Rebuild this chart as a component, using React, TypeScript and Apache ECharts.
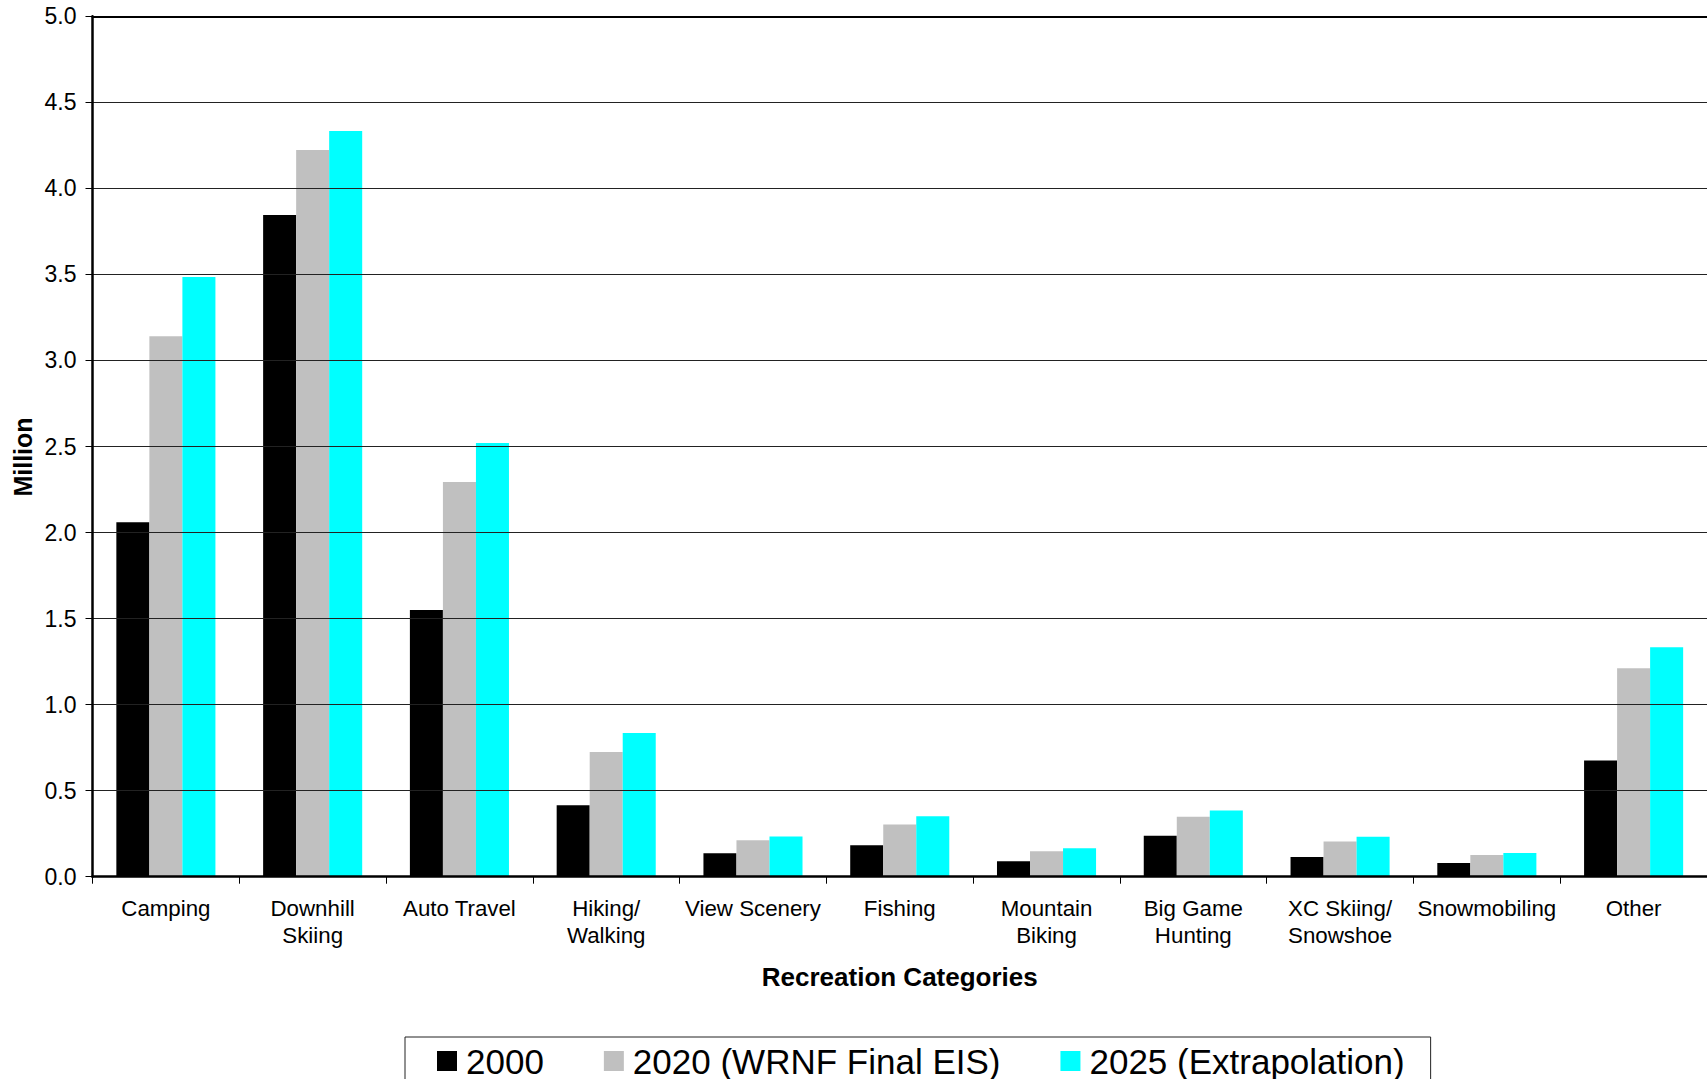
import React, { useEffect, useRef } from "react";
import * as echarts from "echarts";

const categories = [
  "Camping",
  "Downhill\nSkiing",
  "Auto Travel",
  "Hiking/\nWalking",
  "View Scenery",
  "Fishing",
  "Mountain\nBiking",
  "Big Game\nHunting",
  "XC Skiing/\nSnowshoe",
  "Snowmobiling",
  "Other",
];

const seriesNames = ["2000", "2020 (WRNF Final EIS)", "2025 (Extrapolation)"];
const seriesColors = ["#000000", "#C0C0C0", "#00FFFF"];

const values2000 = [2.06, 3.845, 1.55, 0.415, 0.136, 0.183, 0.09, 0.238, 0.115, 0.08, 0.675];
const values2020 = [3.14, 4.223, 2.293, 0.725, 0.212, 0.304, 0.148, 0.348, 0.204, 0.126, 1.211];
const values2025 = [3.485, 4.333, 2.521, 0.835, 0.233, 0.351, 0.166, 0.384, 0.232, 0.138, 1.334];

const yTicks = { min: 0, max: 5, interval: 0.5 };

const FONT = "'Liberation Sans', Arial, Helvetica, sans-serif";

export default function App() {
  const ref = useRef<HTMLDivElement>(null);

  useEffect(() => {
    if (!ref.current) return;
    const chart = echarts.init(ref.current, null, { renderer: "svg" });
    const allValues = [values2000, values2020, values2025];
    chart.setOption({
      animation: false,
      backgroundColor: "#ffffff",
      textStyle: { fontFamily: FONT },
      grid: { left: 92.5, top: 16.3, width: 1619, height: 860.4, containLabel: false },
      legend: {
        left: 405,
        top: 1037,
        orient: "horizontal",
        data: seriesNames,
        icon: "rect",
        itemWidth: 20,
        itemHeight: 20,
        itemGap: 60,
        borderColor: "#222",
        borderWidth: 1,
        padding: [4, 26, 12, 32],
        textStyle: {
          fontFamily: FONT,
          fontSize: 35,
          color: "#000",
          lineHeight: 40,
          padding: [0, 0, 0, 4],
        },
      },
      xAxis: [
        {
          type: "category",
          data: categories,
          z: 10,
          name: "Recreation Categories",
          nameLocation: "middle",
          nameGap: 87,
          nameTextStyle: { fontFamily: FONT, fontSize: 26, fontWeight: "bold", color: "#000" },
          axisLine: { show: true, lineStyle: { color: "#000", width: 2.5 } },
          axisTick: { show: true, length: 7, lineStyle: { color: "#000", width: 1 } },
          axisLabel: {
            interval: 0,
            margin: 18,
            fontFamily: FONT,
            fontSize: 22.3,
            lineHeight: 27,
            color: "#000",
          },
          splitLine: { show: false },
        },
        {
          type: "category",
          data: categories,
          position: "top",
          z: 10,
          axisLine: { show: true, lineStyle: { color: "#000", width: 2 } },
          axisTick: { show: false },
          axisLabel: { show: false },
          splitLine: { show: false },
        },
      ],
      yAxis: {
        type: "value",
        min: yTicks.min,
        max: yTicks.max,
        interval: yTicks.interval,
        z: 10,
        axisLine: { show: true, lineStyle: { color: "#000", width: 2.5 } },
        axisTick: { show: true, length: 7, lineStyle: { color: "#000", width: 1 } },
        axisLabel: {
          margin: 16,
          fontFamily: FONT,
          fontSize: 23,
          color: "#000",
          formatter: (v: number) => v.toFixed(1),
        },
        splitLine: { show: true, lineStyle: { color: "#222", width: 1 } },
      },
      graphic: [
        {
          type: "text",
          x: 23,
          y: 457,
          rotation: Math.PI / 2,
          style: {
            text: "Million",
            font: `bold 25px ${FONT}`,
            fill: "#000",
            textAlign: "center",
            textVerticalAlign: "middle",
          },
        },
      ],
      series: seriesNames.map((name, i) => ({
        name,
        type: "bar",
        data: allValues[i],
        barGap: "0%",
        barCategoryGap: "32.5%",
        itemStyle: { color: seriesColors[i] },
      })),
    });
    return () => chart.dispose();
  }, []);

  return (
    <div
      ref={ref}
      style={{ position: "absolute", left: 0, top: 0, width: "1707px", height: "1079px" }}
    />
  );
}
